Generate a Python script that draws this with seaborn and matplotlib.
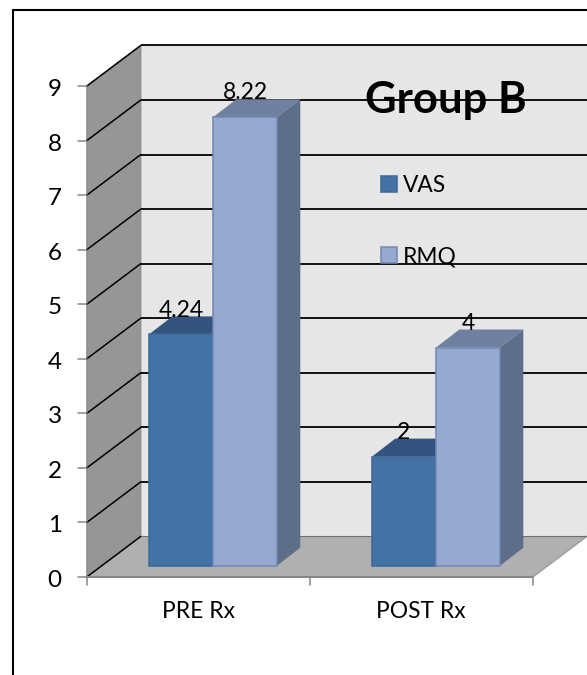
from __future__ import annotations

import matplotlib

matplotlib.use("Agg")

import matplotlib.pyplot as plt
import pandas as pd
import seaborn as sns
from matplotlib.patches import Patch, Polygon
from matplotlib.transforms import Affine2D

CATEGORIES = ["PRE Rx", "POST Rx"]
VAS_VALUES = [4.24, 2]
RMQ_VALUES = [8.22, 4]
SERIES_NAMES = ["VAS", "RMQ"]
Y_TICKS = [0, 1, 2, 3, 4, 5, 6, 7, 8, 9]
CHART_TITLE = "Group B"

WIDTH, HEIGHT = 587, 675
PX_PER_CAT = 223.0
PX_PER_UNIT = 54.55
CAT0_PX = 213.0  # px of first category centre on the bar plane
BASE_PX = 565.7  # px of value 0 on the bar plane
BAR_DEPTH = (23.3, 18.0)
FRONT = (-14.7, -11.3)  # front plane of the box, relative to the bar plane
BACK = (39.3, 29.3)  # back wall, relative to the bar plane

FACE = {"VAS": "#4471a6", "RMQ": "#95a9d1"}
EDGE = {"VAS": "#3d6795", "RMQ": "#7388b2"}
TOP = {"VAS": "#33547f", "RMQ": "#6f80a0"}
SIDE = {"VAS": "#2c4a70", "RMQ": "#5e6e89"}
GREY = "#868686"
FONT = ["Lato", "DejaVu Sans"]

sns.set_theme(style="white")
plt.rcParams["font.family"] = FONT

df = pd.DataFrame(
    {
        "group": CATEGORIES * 2,
        "series": [SERIES_NAMES[0]] * 2 + [SERIES_NAMES[1]] * 2,
        "value": VAS_VALUES + RMQ_VALUES,
    }
)

fig = plt.figure(figsize=(WIDTH / 100, HEIGHT / 100), dpi=100)
ax = fig.add_axes([0, 0, 1, 1])
sns.barplot(
    data=df,
    x="group",
    y="value",
    hue="series",
    hue_order=SERIES_NAMES,
    palette=FACE,
    saturation=1,
    width=0.574,
    gap=0,
    legend=False,
    zorder=3,
    ax=ax,
)
ax.set_xlim(-CAT0_PX / PX_PER_CAT, (WIDTH - CAT0_PX) / PX_PER_CAT)
ax.set_ylim((BASE_PX - HEIGHT) / PX_PER_UNIT, BASE_PX / PX_PER_UNIT)
ax.axis("off")


def shifted(offset):
    return ax.transData + Affine2D().translate(*offset)


x0, x1 = -0.5, 1.5
top_v = Y_TICKS[-1]
d_x = (BACK[0] - FRONT[0]) / PX_PER_CAT
d_y = (BACK[1] - FRONT[1]) / PX_PER_UNIT

# walls and floor
ax.add_patch(Polygon([(x0, 0), (x1, 0), (x1, top_v), (x0, top_v)], fc="#e6e6e6", ec="none",
                     transform=shifted(BACK), zorder=1))
ax.add_patch(Polygon([(x0, 0), (x0 + d_x, d_y), (x0 + d_x, top_v + d_y), (x0, top_v)], fc="#969696",
                     ec=GREY, lw=0.8, transform=shifted(FRONT), zorder=1.1))
ax.add_patch(Polygon([(x0, 0), (x1, 0), (x1 + d_x, d_y), (x0 + d_x, d_y)], fc="#b0b0b0",
                     ec="none", transform=shifted(FRONT), zorder=1.1))

# gridlines, back wall then side wall
for v in Y_TICKS:
    if v > 0:
        ax.plot([x0, x1], [v, v], color="black", lw=1.3, transform=shifted(BACK), zorder=1.5,
                solid_capstyle="butt")
    ax.plot([x0, x0 + d_x], [v, v + d_y], color="black", lw=1.1, transform=shifted(FRONT), zorder=1.5)
    ax.plot([x0 - 9 / PX_PER_CAT, x0], [v, v], color=GREY, lw=1.1, transform=shifted(FRONT), zorder=1.5)
    ax.text(x0 - 25 / PX_PER_CAT, v - 1.5 / PX_PER_UNIT, str(v), ha="right", va="center_baseline",
            fontsize=17.5, color="black", transform=shifted(FRONT))

# box edges on the floor
ax.plot([x0, x1], [0, 0], color=GREY, lw=1.5, transform=shifted(FRONT), zorder=1.6)
ax.plot([x1, x1 + d_x], [0, d_y], color="#a0a0a0", lw=1.1, transform=shifted(FRONT), zorder=1.6)
ax.plot([x0, x1], [0, 0], color="#707070", lw=0.8, transform=shifted(BACK), zorder=1.6)

# x ticks and labels
for i, name in enumerate(CATEGORIES):
    ax.text(i, -34 / PX_PER_UNIT, name, ha="center", va="center", fontsize=16.4,
            color="black", transform=shifted(FRONT))
for x in [x0, 0.5, x1]:
    ax.plot([x, x], [0, -8 / PX_PER_UNIT], color=GREY, lw=1.1, transform=shifted(FRONT), zorder=1.6)

# 3d faces built from the bars seaborn drew
dep_x = BAR_DEPTH[0] / PX_PER_CAT
dep_y = BAR_DEPTH[1] / PX_PER_UNIT
for k, (name, container) in enumerate(zip(SERIES_NAMES, ax.containers)):
    for bar in container:
        bar.set_edgecolor(EDGE[name])
        bar.set_linewidth(1.1)
        left, right = bar.get_x(), bar.get_x() + bar.get_width()
        h = bar.get_height()
        ax.add_patch(Polygon([(left, h), (right, h), (right + dep_x, h + dep_y), (left + dep_x, h + dep_y)],
                             fc=TOP[name], ec="none", zorder=2.5 + k * 0.1))
        ax.add_patch(Polygon([(right, 0), (right + dep_x, dep_y), (right + dep_x, h + dep_y), (right, h)],
                             fc=SIDE[name], ec="none", zorder=2.5 + k * 0.1))
    ax.bar_label(container, fmt="%g", padding=10, fontsize=16.5, color="black", zorder=6)

# chart frame, cut by the right and bottom image edges
ax.plot([13 / WIDTH, 13 / WIDTH, 1], [0, 1 - 10 / HEIGHT, 1 - 10 / HEIGHT], color="black", lw=1.5,
        transform=ax.transAxes, zorder=7, solid_joinstyle="miter")

ax.text(446 / WIDTH, 1 - 113 / HEIGHT, CHART_TITLE, ha="center", va="baseline", fontsize=31.4,
        fontweight="bold", color="black", transform=ax.transAxes, zorder=6)

handles = [Patch(fc=FACE[n], ec=EDGE[n], lw=1.1, label=n) for n in SERIES_NAMES]
ax.legend(
    handles=handles,
    loc="upper left",
    bbox_to_anchor=(381 / WIDTH, 1 - 175 / HEIGHT),
    frameon=False,
    fontsize=16.4,
    labelcolor="black",
    handlelength=0.7,
    handleheight=0.7,
    handletextpad=0.26,
    labelspacing=2.2,
    borderpad=0,
    borderaxespad=0,
)

fig.savefig("out.png", dpi=100)
